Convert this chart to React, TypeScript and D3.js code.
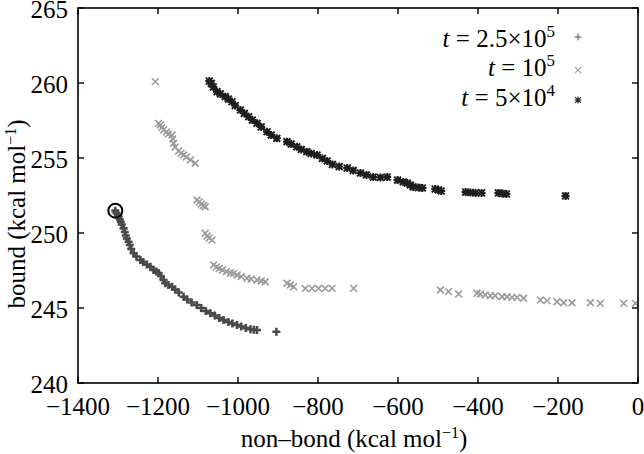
import React from "react";
import * as d3 from "d3";

// t = 2.5x10^5 series (plus markers)
const plusX = [-1306.7,-1304,-1300.5,-1298.5,-1295.5,-1293,-1290.5,-1286,-1283,-1280.5,-1278,-1273.5,-1270.5,-1267,-1261,-1254,-1244,-1237,-1228,-1219,-1211,-1204,-1198.5,-1193,-1186,-1182,-1174,-1165,-1157,-1148,-1136,-1127,-1116,-1103,-1092,-1080.5,-1069,-1058,-1047,-1036,-1024,-1014,-1002.5,-992,-980.5,-969,-960.5,-952.5,-904];
const plusY = [251.49,251.33,251.17,251.09,250.9,250.73,250.57,250.31,250.07,249.83,249.63,249.42,249.2,248.93,248.65,248.43,248.2,248.07,247.9,247.75,247.53,247.43,247.33,247.13,246.87,246.65,246.53,246.42,246.23,246.03,245.75,245.57,245.37,245.2,245.0,244.8,244.65,244.5,244.33,244.2,244.07,243.97,243.87,243.77,243.67,243.58,243.55,243.53,243.42];

// t = 10^5 series (cross markers)
const crossX = [-1206.8,-1198.5,-1194,-1190.5,-1186,-1179,-1174,-1165,-1163,-1161,-1157,-1148.5,-1142,-1136,-1129,-1119,-1107,-1102.5,-1097,-1092,-1087,-1082,-1082,-1077,-1072,-1065,-1061,-1054,-1047,-1039,-1029,-1019,-1011,-1002,-992,-977.5,-967,-952.5,-942,-932,-877.5,-869,-861,-832,-815,-798.5,-782,-765,-711,-494,-473.5,-448.5,-402.5,-394,-382,-369,-357,-340,-327.5,-315,-302.5,-286,-244,-227.5,-202.5,-186,-165,-119,-94,-36,-6.5];
const crossY = [260.09,257.31,257.2,257.03,256.87,256.73,256.6,256.53,256.27,255.98,255.73,255.47,255.31,255.2,255.07,254.87,254.65,252.2,252.07,251.93,251.83,251.75,249.98,249.8,249.67,249.53,247.87,247.73,247.63,247.53,247.43,247.33,247.31,247.2,247.1,246.98,246.93,246.87,246.8,246.75,246.65,246.53,246.42,246.31,246.31,246.31,246.31,246.31,246.31,246.2,246.09,245.93,245.98,245.93,245.87,245.82,245.82,245.75,245.75,245.71,245.71,245.65,245.53,245.49,245.42,245.35,245.35,245.35,245.31,245.31,245.31];

// t = 5x10^4 series (star markers)
const starX = [-1071.75,-1066.75,-1061.75,-1052.5,-1044,-1032,-1024,-1015,-1007,-994,-984,-973.5,-964,-952.5,-942,-927.5,-917,-903,-877.5,-867,-853,-842,-828,-817,-802.5,-789,-777,-764,-747,-727,-712,-694,-679,-662,-644,-627,-601,-587,-577,-569,-562,-549,-539,-507,-499,-492,-431,-419,-406,-391,-349,-339,-329,-181];
const starY = [260.13,259.97,259.73,259.42,259.27,259.09,258.93,258.75,258.5,258.2,257.97,257.75,257.53,257.31,257.07,256.75,256.53,256.31,256.09,255.93,255.75,255.57,255.42,255.3,255.2,254.97,254.8,254.57,254.43,254.33,254.17,254.0,253.87,253.73,253.7,253.73,253.53,253.4,253.33,253.2,253.07,253.03,253.0,252.93,252.87,252.8,252.73,252.7,252.67,252.67,252.67,252.63,252.6,252.47];

const xTicks = [-1400, -1200, -1000, -800, -600, -400, -200, 0];
const yTicks = [240, 245, 250, 255, 260, 265];
const circled = { x: -1306.7, y: 251.49 };

const W = 644, H = 454;
const M = { left: 78, right: 6, top: 8, bottom: 71 };
const FONT = "Liberation Serif, Times New Roman, Times, serif";

const mk = (r: number) => ({
  plus: `M${-r},0H${r}M0,${-r}V${r}`,
  cross: `M${-r * 0.85},${-r * 0.85}L${r * 0.85},${r * 0.85}M${-r * 0.85},${r * 0.85}L${r * 0.85},${-r * 0.85}`,
});
const big = mk(4);
const small = mk(3.5);

export default function App() {
  const x = d3.scaleLinear().domain([-1400, 0]).range([M.left, W - M.right]);
  const y = d3.scaleLinear().domain([240, 265]).range([H - M.bottom, M.top]);
  const x0 = x.range()[0], x1 = x.range()[1];
  const y0 = y.range()[0], y1 = y.range()[1];
  const tl = 6;
  const fmt = (v: number) => (v < 0 ? "\u2212" + Math.abs(v) : String(v));
  const ts = { fontFamily: FONT, fontSize: 25 } as React.CSSProperties;

  const series = [
    { xs: crossX, ys: crossY, path: big.cross, color: "#9a9a9a", sw: 1.6 },
    { xs: plusX, ys: plusY, path: big.plus, color: "#4a4a4a", sw: 2.6 },
    { xs: starX, ys: starY, path: big.plus + big.cross, color: "#1e1e1e", sw: 2 },
  ];

  return (
    <svg width={W} height={H} style={{ display: "block", position: "absolute", left: 0, top: 0, background: "#fff", fontFamily: FONT }}>
      <rect width={W} height={H} fill="#fff" />
      {series.map((s, si) => (
        <g key={si} stroke={s.color} strokeWidth={s.sw} fill="none">
          {s.xs.map((v, i) => (
            <path key={i} d={s.path} transform={`translate(${x(v)},${y(s.ys[i])})`} />
          ))}
        </g>
      ))}
      <circle cx={x(circled.x)} cy={y(circled.y)} r={7} fill="none" stroke="#000" strokeWidth={2} />
      <rect x={x0} y={y1} width={x1 - x0} height={y0 - y1} fill="none" stroke="#000" strokeWidth={1.6} />
      {xTicks.map((t) => (
        <g key={"x" + t}>
          <line x1={x(t)} x2={x(t)} y1={y0} y2={y0 - tl} stroke="#000" strokeWidth={1.4} />
          <line x1={x(t)} x2={x(t)} y1={y1} y2={y1 + tl} stroke="#000" strokeWidth={1.4} />
          <text x={x(t)} y={y0 + 32} textAnchor="middle" style={ts}>{fmt(t)}</text>
        </g>
      ))}
      {yTicks.map((t) => (
        <g key={"y" + t}>
          <line x1={x0} x2={x0 + tl} y1={y(t)} y2={y(t)} stroke="#000" strokeWidth={1.4} />
          <line x1={x1} x2={x1 - tl} y1={y(t)} y2={y(t)} stroke="#000" strokeWidth={1.4} />
          <text x={x0 - 10} y={y(t) + 10} textAnchor="end" style={ts}>{t}</text>
        </g>
      ))}
      <text x={354} y={447} textAnchor="middle" style={ts}>
        non–bond (kcal mol<tspan style={{ fontSize: 16 }} dy={-9}>−1</tspan><tspan dy={9}>)</tspan>
      </text>
      <text transform={`translate(25,214) rotate(-90)`} textAnchor="middle" style={ts}>
        bound (kcal mol<tspan style={{ fontSize: 16 }} dy={-9}>−1</tspan><tspan dy={9}>)</tspan>
      </text>
      <g>
        <text x={555} y={47} textAnchor="end" style={ts}>
          <tspan fontStyle="italic">t</tspan> = 2.5×10<tspan style={{ fontSize: 17 }} dy={-10}>5</tspan>
        </text>
        <path d={small.plus} transform="translate(578,37)" stroke="#555555" strokeWidth={1.1} fill="none" />
        <text x={555} y={76} textAnchor="end" style={ts}>
          <tspan fontStyle="italic">t</tspan> = 10<tspan style={{ fontSize: 17 }} dy={-10}>5</tspan>
        </text>
        <path d={small.cross} transform="translate(578,70)" stroke="#9a9a9a" strokeWidth={1.1} fill="none" />
        <text x={555} y={106} textAnchor="end" style={ts}>
          <tspan fontStyle="italic">t</tspan> = 5×10<tspan style={{ fontSize: 17 }} dy={-10}>4</tspan>
        </text>
        <path d={small.plus + small.cross} transform="translate(578,100)" stroke="#1e1e1e" strokeWidth={1.1} fill="none" />
      </g>
    </svg>
  );
}
